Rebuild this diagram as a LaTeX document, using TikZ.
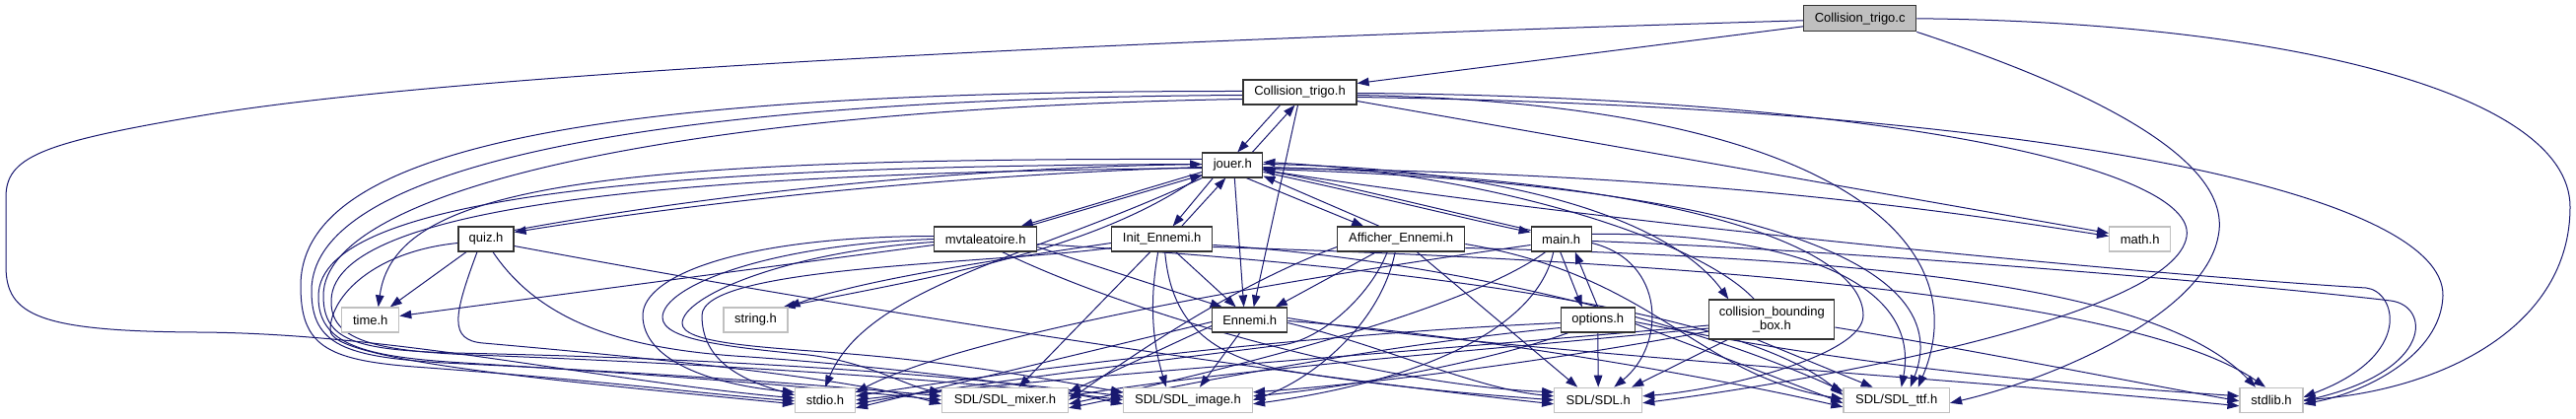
\documentclass[tikz,border=0pt]{standalone}
\usepackage{fontspec}
\newfontfamily\hfont{Liberation Sans}
\usetikzlibrary{arrows.meta}
\pgfdeclarelayer{bg}
\pgfsetlayers{bg,main}
\definecolor{edgeblue}{HTML}{191970}
\definecolor{sysgray}{HTML}{C0C0C0}
\definecolor{ctcgray}{HTML}{BFBFBF}
\begin{document}
\begin{tikzpicture}[x=1pt,y=-1pt,
  box/.style={draw=black!80, fill=white, line width=1.2pt, minimum height=25pt, inner sep=0pt, font={\hfont\fontsize{13}{14.5}\selectfont}},
  sys/.style={box, draw=sysgray},
  e/.style={draw=edgeblue, line width=1pt, -{Triangle[length=12pt,width=8.5pt]}}]
\begin{pgfonlayer}{bg}
\fill[white] (0,0) rectangle (2613,425);
\end{pgfonlayer}
\useasboundingbox (0,0) rectangle (2613,425);
% nodes
\node[box, fill=ctcgray, minimum width=114pt, minimum height=26pt] (ctc) at (1886.7,18.8) {Collision\_trigo.c};
\node[box, minimum width=115pt] (cth) at (1318.5,93.5) {Collision\_trigo.h};
\node[box, minimum width=61pt] (jouer) at (1250.3,167.5) {jouer.h};
\node[box, minimum width=56pt] (quiz) at (493,242.5) {quiz.h};
\node[box, minimum width=104pt] (mvt) at (999.7,242.5) {mvtaleatoire.h};
\node[box, minimum width=102pt] (init) at (1178.7,242.5) {Init\_Ennemi.h};
\node[box, minimum width=129pt] (aff) at (1421.2,242.5) {Afficher\_Ennemi.h};
\node[box, minimum width=61pt] (main) at (1583.7,242.5) {main.h};
\node[sys, minimum width=62pt] (math) at (2170.6,242.5) {math.h};
\node[sys, minimum width=58pt] (time) at (375.7,324.5) {time.h};
\node[sys, minimum width=65pt] (string) at (766.5,324.5) {string.h};
\node[box, minimum width=76pt] (ennemi) at (1267.7,324.5) {Ennemi.h};
\node[box, minimum width=75pt] (options) at (1620.8,324.5) {options.h};
\node[box, minimum width=127pt, minimum height=40pt, align=center] (cbb) at (1797.3,324) {collision\_bounding\\\_box.h};
\node[sys, minimum width=61pt] (stdio) at (837,405.8) {stdio.h};
\node[sys, minimum width=128pt] (mixer) at (1019.5,405.8) {SDL/SDL\_mixer.h};
\node[sys, minimum width=131pt] (image) at (1205,405.8) {SDL/SDL\_image.h};
\node[sys, minimum width=89pt] (sdl) at (1621.2,405.8) {SDL/SDL.h};
\node[sys, minimum width=107.5pt] (ttf) at (1923.7,405.8) {SDL/SDL\_ttf.h};
\node[sys, minimum width=64pt] (stdlib) at (2304,405.8) {stdlib.h};
\begin{pgfonlayer}{bg}
% Collision_trigo.c
\draw[e] ([yshift=-8pt]ctc.west) -- ([yshift=9pt]cth.east);
\draw[e] ([yshift=-2pt]ctc.west) .. controls (1000,45) and (420,80) .. (200,118) .. controls (40,145) and (6,160) .. (6,200) -- (6,270) .. controls (6,320) and (40,336) .. (200,337) .. controls (400,338) and (600,385) .. ([yshift=2pt]stdio.west);
\draw[e] (ctc.east) .. controls (2300,22) and (2607,90) .. (2607,210) .. controls (2607,330) and (2480,395) .. (stdlib.east);
\draw[e] (ctc.south east) .. controls (2150,100) and (2265,170) .. (2250,240) .. controls (2235,320) and (2080,385) .. ([yshift=-3pt]ttf.east);
% Collision_trigo.h
\draw[e] ([xshift=-20pt]cth.south) -- ([xshift=5pt]jouer.north);
\draw[e] ([xshift=-2pt]cth.south) -- ([xshift=4pt]ennemi.north);
\draw[e] ([yshift=-9pt]cth.east) -- ([yshift=6pt]math.west);
\draw[e] ([yshift=1pt]cth.west) .. controls (600,92) and (305,150) .. (305,290) .. controls (305,350) and (330,365) .. (420,372) .. controls (600,385) and (720,400) .. ([yshift=-1pt]stdio.west);
\draw[e] ([yshift=-3pt]cth.west) .. controls (650,100) and (316,170) .. (316,295) .. controls (316,350) and (350,362) .. (450,368) .. controls (700,380) and (850,392) .. ([yshift=4pt]mixer.west);
\draw[e] ([yshift=-7pt]cth.west) .. controls (700,110) and (328,190) .. (328,300) .. controls (328,345) and (360,355) .. (460,358) .. controls (800,365) and (1000,385) .. ([yshift=4pt]image.west);
\draw[e] ([yshift=-1pt]cth.east) .. controls (1900,98) and (2230,170) .. (2218,240) .. controls (2205,320) and (1850,385) .. ([yshift=-3pt]sdl.east);
\draw[e] ([yshift=-3pt]cth.east) .. controls (1850,105) and (2010,240) .. ([xshift=22pt]ttf.north);
\draw[e] ([yshift=-5pt]cth.east) .. controls (2100,110) and (2480,200) .. (2478,300) .. controls (2476,360) and (2400,398) .. ([yshift=-4pt]stdlib.east);
% jouer.h
\draw[e] ([xshift=20pt]jouer.north) -- ([xshift=-5pt]cth.south);
\draw[e] ([yshift=-2pt]jouer.west) .. controls (900,180) and (650,215) .. ([yshift=7pt]quiz.east);
\draw[e] ([yshift=-7pt]jouer.west) -- ([xshift=36pt]mvt.north);
\draw[e] ([xshift=-20pt]jouer.south) -- ([xshift=11pt]init.north);
\draw[e] ([xshift=14pt]jouer.south) -- ([xshift=-38pt]aff.north);
\draw[e] ([yshift=-7pt]jouer.east) .. controls (1400,200) and (1500,225) .. ([yshift=7pt]main.west);
\draw[e] ([yshift=1pt]jouer.east) .. controls (1550,170) and (1700,230) .. ([xshift=-44pt]cbb.north);
\draw[e] ([xshift=2pt]jouer.south) -- ([xshift=-6pt]ennemi.north);
\draw[e] ([yshift=6pt]jouer.west) .. controls (600,160) and (400,190) .. ([xshift=8pt]time.north);
\draw[e] ([yshift=-10pt]jouer.west) .. controls (1110,255) and (950,280) .. ([xshift=28pt]string.north);
\draw[e] ([yshift=-3pt]jouer.east) .. controls (1700,175) and (1950,210) .. ([yshift=3pt]math.west);
\draw[e] (jouer.south west) .. controls (1050,260) and (880,290) .. (stdio.north);
\draw[e] ([yshift=1pt]jouer.west) .. controls (700,168) and (324,195) .. (323,300) .. controls (322,350) and (370,362) .. (470,368) .. controls (700,382) and (850,395) .. (mixer.west);
\draw[e] ([yshift=-3pt]jouer.west) .. controls (750,175) and (337,200) .. (336,305) .. controls (335,345) and (380,356) .. (480,360) .. controls (750,370) and (1000,388) .. (image.west);
\draw[e] ([yshift=-2pt]jouer.east) .. controls (1700,180) and (1890,250) .. (1890,320) .. controls (1890,360) and (1750,395) .. ([yshift=4pt]sdl.east);
\draw[e] ([yshift=-4pt]jouer.east) .. controls (1750,185) and (1990,260) .. ([xshift=14pt]ttf.north);
\draw[e] ([yshift=-5pt]jouer.east) .. controls (1650,230) and (2200,280) .. (2400,292) .. controls (2430,295) and (2450,360) .. ([yshift=3pt]stdlib.east);
% quiz.h
\draw[e] ([yshift=9pt]quiz.east) .. controls (650,210) and (900,172) .. ([yshift=1pt]jouer.west);
\draw[e] ([xshift=-20pt]quiz.south) -- ([xshift=20pt]time.north);
\draw[e] ([yshift=-4pt]quiz.west) .. controls (380,255) and (335,300) .. (335,335) .. controls (335,365) and (550,385) .. ([yshift=-4pt]stdio.west);
\draw[e] ([xshift=-9pt]quiz.south) .. controls (460,320) and (455,345) .. (490,348) .. controls (800,375) and (900,395) .. ([yshift=-4pt]mixer.west);
\draw[e] ([xshift=7pt]quiz.south) .. controls (550,330) and (640,355) .. (760,362) .. controls (900,372) and (1050,390) .. ([yshift=-4pt]image.west);
\draw[e] ([yshift=-7pt]quiz.east) .. controls (900,320) and (1300,380) .. ([yshift=-4pt]sdl.west);
% mvtaleatoire.h
\draw[e] ([xshift=43pt]mvt.north) -- ([yshift=-10pt]jouer.west);
\draw[e] ([yshift=-6pt]mvt.west) -- ([yshift=4pt]time.east);
\draw[e] ([yshift=3pt]mvt.west) .. controls (750,240) and (652,280) .. (652,320) .. controls (652,365) and (720,390) .. ([yshift=8pt]stdio.west);
\draw[e] (mvt.west) .. controls (780,248) and (672,290) .. (672,322) .. controls (672,345) and (740,352) .. (820,360) .. controls (880,367) and (920,392) .. ([yshift=8pt]mixer.west);
\draw[e] ([yshift=-3pt]mvt.west) .. controls (800,255) and (692,300) .. (692,328) .. controls (692,348) and (770,352) .. (850,358) .. controls (980,368) and (1080,388) .. ([yshift=8pt]image.west);
\draw[e] ([yshift=-8pt]mvt.east) -- ([xshift=-28pt]ennemi.north);
\draw[e] ([xshift=17pt]mvt.south) .. controls (1150,320) and (1400,390) .. ([yshift=8pt]sdl.west);
\draw[e] ([yshift=-5pt]mvt.east) .. controls (1300,262) and (1750,300) .. ([yshift=5pt]ttf.west);
% Init_Ennemi.h
\draw[e] ([xshift=20pt]init.north) -- ([xshift=-7pt]jouer.south);
\draw[e] ([yshift=-4pt]init.west) .. controls (1000,265) and (870,285) .. (string.north east);
\draw[e] ([yshift=-9pt]init.west) .. controls (1000,268) and (712,270) .. (712,320) .. controls (712,365) and (750,385) .. ([yshift=5pt]stdio.west);
\draw[e] ([xshift=-12pt]init.south) -- ([xshift=14pt]mixer.north);
\draw[e] ([xshift=-4pt]init.south) .. controls (1165,310) and (1170,350) .. ([xshift=-22pt]image.north);
\draw[e] ([xshift=14pt]init.south) -- ([xshift=-14pt]ennemi.north);
\draw[e] ([xshift=3pt]init.south) .. controls (1188,330) and (1230,360) .. (1300,375) .. controls (1400,392) and (1500,400) .. (sdl.west);
\draw[e] ([yshift=-6pt]init.east) .. controls (1450,262) and (1700,320) .. ([yshift=9pt]ttf.west);
\draw[e] ([yshift=-8pt]init.east) .. controls (1600,262) and (2150,290) .. ([xshift=-6pt]stdlib.north);
% Afficher_Ennemi.h
\draw[e] ([xshift=-22pt]aff.north) -- ([yshift=-11pt]jouer.east);
\draw[e] ([xshift=-25pt]aff.south) -- ([xshift=26pt]ennemi.north);
\draw[e] ([xshift=-14pt]aff.south) .. controls (1390,300) and (1340,345) .. (1300,350) .. controls (1100,375) and (950,395) .. ([yshift=-4pt]stdio.east);
\draw[e] ([yshift=-8pt]aff.west) .. controls (1250,290) and (1150,360) .. (mixer.east);
\draw[e] ([xshift=-6pt]aff.south) .. controls (1400,330) and (1330,385) .. (image.east);
\draw[e] ([xshift=16pt]aff.south) -- ([xshift=-21pt]sdl.north);
\draw[e] ([yshift=-5pt]aff.east) .. controls (1680,280) and (1720,380) .. ([yshift=1pt]ttf.west);
\draw[e] ([yshift=-9pt]aff.east) .. controls (1900,262) and (2190,290) .. ([xshift=-16pt]stdlib.north);
% main.h
\draw[e] ([yshift=9pt]main.west) .. controls (1450,210) and (1350,185) .. ([yshift=-5pt]jouer.east);
\draw[e] ([xshift=-1pt]main.south) -- ([xshift=-16pt]options.north);
\draw[e] ([yshift=-6pt]main.west) .. controls (1400,270) and (1000,330) .. ([yshift=8pt]stdio.east);
\draw[e] ([xshift=-16pt]main.south) .. controls (1480,320) and (1200,385) .. ([yshift=-4pt]mixer.east);
\draw[e] ([xshift=-8pt]main.south) .. controls (1560,330) and (1450,385) .. ([yshift=-4pt]image.east);
\draw[e] ([yshift=-4pt]main.east) .. controls (1690,265) and (1690,350) .. ([xshift=16pt]sdl.north);
\draw[e] ([yshift=5pt]main.east) .. controls (1800,235) and (1950,280) .. ([xshift=5pt]ttf.north);
\draw[e] ([yshift=-2pt]main.east) .. controls (1900,255) and (2300,290) .. (2425,305) .. controls (2465,310) and (2470,375) .. ([yshift=-1pt]stdlib.east);
% options.h
\draw[e] (options.north) -- ([xshift=14pt]main.south);
\draw[e] (options.south) -- (sdl.north);
\draw[e] ([yshift=-3pt]options.west) .. controls (1300,340) and (1000,380) .. ([yshift=4pt]stdio.east);
\draw[e] ([yshift=-8pt]options.west) .. controls (1400,350) and (1200,390) .. ([yshift=-8pt]mixer.east);
\draw[e] ([xshift=-30pt]options.south) .. controls (1500,370) and (1350,395) .. ([yshift=4pt]image.east);
\draw[e] ([yshift=-4pt]options.east) -- ([yshift=-3pt]ttf.west);
\draw[e] ([yshift=-2pt]options.east) .. controls (1900,375) and (2100,390) .. ([yshift=4pt]stdlib.west);
% collision_bounding_box.h
\draw[e] ([xshift=-18pt]cbb.north) .. controls (1720,240) and (1500,175) .. ([yshift=3pt]jouer.east);
\draw[e] ([yshift=-6pt]cbb.west) .. controls (1400,360) and (1100,380) .. (stdio.east);
\draw[e] ([yshift=-9pt]cbb.west) .. controls (1450,360) and (1250,375) .. ([yshift=4pt]mixer.east);
\draw[e] ([yshift=-12pt]cbb.west) .. controls (1550,370) and (1380,390) .. ([yshift=8pt]image.east);
\draw[e] ([xshift=-45pt]cbb.south) -- ([xshift=34pt]sdl.north);
\draw[e] ([xshift=-15pt]cbb.south) -- ([xshift=-24pt]ttf.north);
\draw[e] ([yshift=-8pt]cbb.east) .. controls (2000,355) and (2150,385) .. ([yshift=-1pt]stdlib.west);
% Ennemi.h
\draw[e] ([yshift=-2pt]ennemi.west) -- ([yshift=-8pt]stdio.east);
\draw[e] ([yshift=-6pt]ennemi.west) -- ([yshift=8pt]mixer.east);
\draw[e] ([xshift=-10pt]ennemi.south) -- ([xshift=12pt]image.north);
\draw[e] ([yshift=-3pt]ennemi.east) .. controls (1400,350) and (1500,395) .. ([yshift=4pt]sdl.west);
\draw[e] ([yshift=-1pt]ennemi.east) .. controls (1500,340) and (1750,385) .. ([yshift=-7pt]ttf.west);
\draw[e] ([yshift=2pt]ennemi.east) .. controls (1500,355) and (2000,385) .. ([yshift=-6pt]stdlib.west);
\end{pgfonlayer}
\end{tikzpicture}
\end{document}
